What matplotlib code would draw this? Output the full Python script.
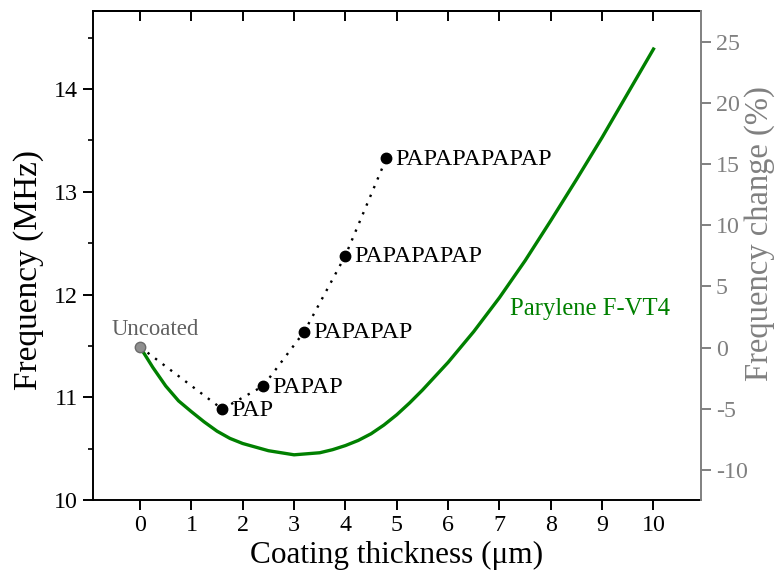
import matplotlib
matplotlib.use('Agg')
import matplotlib.pyplot as plt
from matplotlib.ticker import MultipleLocator

plt.rcParams['font.family'] = ['Liberation Serif', 'DejaVu Serif']
plt.rcParams['axes.unicode_minus'] = False

# Parylene F-VT4 model curve: frequency vs coating thickness
model_thickness = [0, 0.25, 0.5, 0.75, 1, 1.25, 1.5, 1.75, 2, 2.5, 3, 3.5, 3.75, 4,
                   4.25, 4.5, 4.75, 5, 5.25, 5.5, 6, 6.5, 7, 7.5, 8, 8.5, 9, 9.5, 10]
model_freq = [11.49, 11.29, 11.11, 10.965, 10.86, 10.76, 10.67, 10.60, 10.55, 10.48,
              10.44, 10.46, 10.49, 10.53, 10.58, 10.645, 10.73, 10.83, 10.945, 11.07,
              11.34, 11.64, 11.97, 12.33, 12.72, 13.12, 13.53, 13.96, 14.39]

# Measured multilayer stacks
uncoated_thickness = 0.0
uncoated_freq = 11.49
stack_names = ['PAP', 'PAPAP', 'PAPAPAP', 'PAPAPAPAP', 'PAPAPAPAPAP']
stack_thickness = [1.6, 2.4, 3.2, 4.0, 4.8]
stack_freq = [10.885, 11.11, 11.64, 12.38, 13.33]

green = '#008000'
grey = '#808080'

fig = plt.figure(figsize=(7.79, 5.81), dpi=100)
ax = fig.add_axes([0.1198, 0.1394, 0.7797, 0.8416])

ax.plot(model_thickness, model_freq, color=green, lw=2.4, zorder=3,
        solid_joinstyle='round')

all_x = [uncoated_thickness] + stack_thickness
all_y = [uncoated_freq] + stack_freq
ax.plot(all_x, all_y, color='black', lw=1.7, linestyle=(0, (1, 3.0)), zorder=4)
ax.plot(stack_thickness, stack_freq, 'o', color='black', ms=7.5, zorder=5)
ax.plot([uncoated_thickness], [uncoated_freq], 'o', color='#8f8f8f',
        mec='#6a6a6a', mew=1.0, ms=7.5, zorder=5)

for name, x, y in zip(stack_names, stack_thickness, stack_freq):
    ax.annotate(name, (x, y), xytext=(6.5, -1), textcoords='offset points',
                ha='left', va='center', fontsize=17.3, color='black')
ax.annotate('Uncoated', (uncoated_thickness, uncoated_freq), xytext=(10.6, 12.7),
            textcoords='offset points', ha='center', va='center',
            fontsize=16.4, color='#606060')
ax.text(7.21, 11.80, 'Parylene F-VT4', color=green, fontsize=17.8,
        ha='left', va='baseline')

ax.set_xlim(-0.91, 10.92)
ax.set_ylim(10, 14.76)
ax.set_xticks(range(0, 11))
ax.set_yticks([10, 11, 12, 13, 14])
ax.yaxis.set_minor_locator(MultipleLocator(0.5))

for side in ['left', 'bottom', 'top']:
    ax.spines[side].set_linewidth(1.4)
    ax.spines[side].set_color('black')
ax.spines['right'].set_visible(False)

ax.tick_params(axis='both', which='major', direction='out', length=7, width=1.4,
               labelsize=17.3, pad=4, colors='black')
ax.tick_params(axis='y', which='minor', direction='out', length=3.5, width=1.2)
ax.set_xlabel('Coating thickness (μm)', fontsize=22.5, labelpad=3)
ax.set_ylabel('Frequency (MHz)', fontsize=24, va='center')
ax.yaxis.set_label_coords(-0.107, 0.47)

# inward ticks along the top edge
top = ax.secondary_xaxis('top')
top.set_xticks(range(0, 11))
top.tick_params(direction='in', length=7, width=1.4, labeltop=False)
top.spines['top'].set_linewidth(1.4)

# frequency change relative to the uncoated device
ax2 = ax.twinx()
ax2.set_ylim(-12.45, 27.51)
ax2.set_yticks([-10, -5, 0, 5, 10, 15, 20, 25])
for side in ['left', 'bottom', 'top']:
    ax2.spines[side].set_visible(False)
ax2.spines['right'].set_color(grey)
ax2.spines['right'].set_linewidth(1.4)
ax2.tick_params(axis='y', direction='out', length=7, width=1.4, colors=grey,
                labelsize=17.3, pad=4)
ax2.set_ylabel('Frequency change (%)', fontsize=23.5, color=grey, va='center')
ax2.yaxis.set_label_coords(1.097, 0.545)

fig.savefig('out.png', dpi=100)
